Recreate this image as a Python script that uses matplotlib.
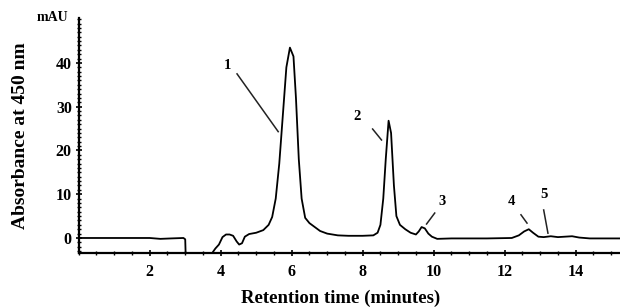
"""Chromatogram: absorbance at 450 nm vs retention time."""

import matplotlib

matplotlib.use("Agg")
import matplotlib.pyplot as plt
from matplotlib.ticker import MultipleLocator

# trace (minutes, mAU)
time_min = [0, 1.0, 2.0, 2.3, 2.6, 2.95, 3.0, 3.02, 3.7, 3.78, 3.85, 3.95,
            4.05, 4.15, 4.25, 4.35, 4.45, 4.52, 4.6, 4.68, 4.8, 5.0, 5.2,
            5.35, 5.45, 5.55, 5.65, 5.75, 5.85, 5.95, 6.05, 6.12, 6.2, 6.28,
            6.38, 6.5, 6.65, 6.8, 7.0, 7.3, 7.6, 8.0, 8.3, 8.42, 8.5, 8.58,
            8.65, 8.73, 8.8, 8.88, 8.95, 9.05, 9.2, 9.35, 9.5, 9.58, 9.66,
            9.75, 9.85, 9.95, 10.1, 10.5, 11.5, 12.2, 12.4, 12.55, 12.68,
            12.8, 12.95, 13.1, 13.3, 13.5, 13.7, 13.9, 14.1, 14.4, 15.3]
absorbance = [0, 0, 0, -0.2, -0.1, 0, -0.3, -6, -6, -3.2, -2.4, -1.5,
              0.2, 0.8, 0.8, 0.5, -0.8, -1.5, -1.2, 0.3, 0.9, 1.2, 1.8,
              3.0, 4.8, 9, 17, 28, 39, 43.5, 41.5, 32, 18, 9,
              4.6, 3.4, 2.5, 1.6, 1.0, 0.6, 0.5, 0.5, 0.6, 1.2, 3, 9,
              18, 26.8, 24, 12, 5, 3, 2, 1.2, 0.8, 1.5, 2.5,
              2.2, 1.0, 0.3, -0.2, -0.1, -0.1, 0.0, 0.6, 1.5, 2.0,
              1.2, 0.3, 0.2, 0.4, 0.2, 0.3, 0.4, 0.1, -0.1, -0.1]

# peak labels and their leader lines
peak_names = ["1", "2", "3", "4", "5"]
label_xy = [(4.2, 39.5), (7.85, 27.8), (10.25, 8.4), (12.2, 8.4), (13.1, 10.0)]
leader_from = [(4.46, 37.5), (8.28, 24.9), (10.03, 5.7), (12.46, 5.3), (13.1, 6.4)]
leader_to = [(5.62, 24.3), (8.53, 22.4), (9.8, 3.2), (12.63, 3.4), (13.22, 1.1)]

x_ticks = [2, 4, 6, 8, 10, 12, 14]
y_ticks = [0, 10, 20, 30, 40]

plt.rcParams["font.family"] = ["Liberation Serif", "DejaVu Serif"]
plt.rcParams["font.weight"] = "bold"

fig = plt.figure(figsize=(6.2, 3.08), dpi=100)
ax = fig.add_axes([0.127, 0.179, 0.873, 0.763])

ax.plot(time_min, absorbance, color="black", lw=1.3)

for name, (tx, ty), (x0, y0), (x1, y1) in zip(peak_names, label_xy,
                                               leader_from, leader_to):
    ax.text(tx, ty, name, fontsize=10.5, fontweight="bold", ha="center",
            va="center")
    ax.plot([x0, x1], [y0, y1], color="#222222", lw=1.1)

ax.set_xlim(0, 15.25)
ax.set_ylim(-3.4, 50.3)
ax.set_xticks(x_ticks)
ax.set_yticks(y_ticks)
ax.xaxis.set_minor_locator(MultipleLocator(0.5))
ax.yaxis.set_minor_locator(MultipleLocator(1))
ax.tick_params(axis="both", which="major", labelsize=11.5, length=4,
               width=1.2, direction="inout")
ax.tick_params(axis="both", which="minor", length=2.5, width=1.0,
               direction="inout")
for lab in ax.get_xticklabels() + ax.get_yticklabels():
    lab.set_fontweight("bold")
ax.tick_params(axis="x", pad=6)
ax.tick_params(axis="y", pad=3)

for side in ("top", "right"):
    ax.spines[side].set_visible(False)
for side in ("left", "bottom"):
    ax.spines[side].set_linewidth(1.6)

ax.set_xlabel("Retention time (minutes)", fontsize=13.5, fontweight="bold",
              va="center")
ax.xaxis.set_label_coords(0.483, -0.192)
ax.set_ylabel("Absorbance at 450 nm", fontsize=14, fontweight="bold",
              va="center")
ax.yaxis.set_label_coords(-0.108, 0.5)
ax.text(-0.02, 1.0, "mAU", transform=ax.transAxes, fontsize=10,
        fontweight="bold", ha="right", va="center")

fig.savefig("out.png", dpi=100)
